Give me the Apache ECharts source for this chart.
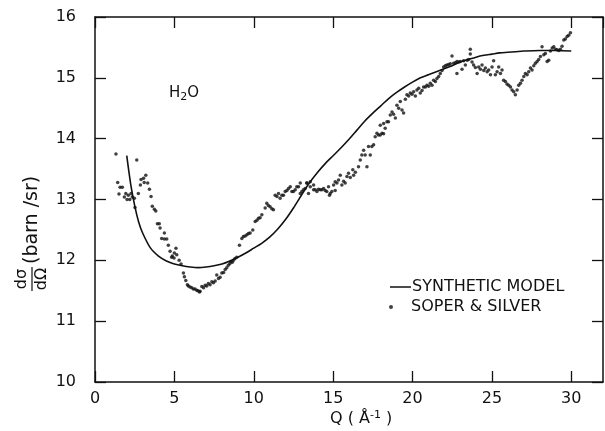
<!DOCTYPE html>
<html>
<head>
<meta charset="utf-8">
<script src="https://cdn.jsdelivr.net/npm/echarts@6/dist/echarts.min.js"></script>
<style>html,body{margin:0;padding:0;background:#fff}#c{width:605px;height:431px}</style>
</head>
<body>
<div id="c"></div>
<script>
const xTicks = [0, 5, 10, 15, 20, 25, 30];
const yTicks = [10, 11, 12, 13, 14, 15, 16];

const modelQ = [2.0, 2.25, 2.5, 2.75, 3.0, 3.5, 4.0, 4.5, 5.0, 5.5, 6.0, 6.5, 7.0, 7.5, 8.0, 8.5, 9.0, 9.5, 10, 10.5, 11, 11.5, 12, 12.5, 13, 13.5, 14, 14.5, 15, 15.5, 16, 16.5, 17, 17.5, 18, 18.5, 19, 19.5, 20, 20.5, 21, 21.5, 22, 22.5, 23, 23.5, 24, 24.5, 25, 25.5, 26, 26.5, 27, 28, 29, 30];
const modelS = [13.72, 13.25, 12.9, 12.63, 12.45, 12.2, 12.07, 11.99, 11.94, 11.91, 11.89, 11.88, 11.89, 11.91, 11.94, 11.99, 12.05, 12.12, 12.2, 12.28, 12.38, 12.51, 12.67, 12.86, 13.07, 13.27, 13.44, 13.59, 13.72, 13.85, 13.99, 14.14, 14.29, 14.42, 14.54, 14.66, 14.76, 14.85, 14.93, 15.0, 15.05, 15.1, 15.15, 15.2, 15.26, 15.3, 15.34, 15.37, 15.39, 15.41, 15.42, 15.43, 15.44, 15.45, 15.45, 15.44];

const dataQ = [1.32, 1.43, 1.51, 1.58, 1.72, 1.85, 1.94, 2.02, 2.1, 2.19, 2.27, 2.35, 2.48, 2.52, 2.63, 2.73, 2.86, 2.9, 3.06, 3.1, 3.2, 3.32, 3.43, 3.53, 3.61, 3.74, 3.83, 3.93, 4.05, 4.1, 4.2, 4.37, 4.37, 4.52, 4.62, 4.73, 4.83, 4.87, 4.98, 5.0, 5.1, 5.15, 5.3, 5.42, 5.57, 5.63, 5.72, 5.82, 5.88, 5.99, 6.09, 6.2, 6.3, 6.41, 6.48, 6.58, 6.62, 6.73, 6.84, 6.94, 7.04, 7.14, 7.25, 7.36, 7.46, 7.57, 7.67, 7.78, 7.88, 7.99, 8.1, 8.2, 8.3, 8.4, 8.5, 8.56, 8.65, 8.72, 8.82, 8.93, 9.1, 9.25, 9.35, 9.46, 9.57, 9.67, 9.77, 9.94, 10.09, 10.2, 10.3, 10.4, 10.51, 10.72, 10.82, 10.92, 11.03, 11.14, 11.24, 11.35, 11.46, 11.56, 11.66, 11.77, 11.87, 11.98, 12.09, 12.19, 12.3, 12.4, 12.5, 12.61, 12.71, 12.82, 12.93, 12.93, 13.03, 13.13, 13.24, 13.34, 13.35, 13.45, 13.56, 13.56, 13.77, 13.77, 13.87, 13.98, 14.08, 14.19, 14.29, 14.4, 14.5, 14.6, 14.71, 14.77, 14.82, 14.92, 15.03, 15.13, 15.13, 15.24, 15.34, 15.45, 15.55, 15.66, 15.76, 15.87, 15.97, 16.08, 16.24, 16.29, 16.4, 16.6, 16.71, 16.81, 16.92, 17.02, 17.13, 17.23, 17.34, 17.44, 17.55, 17.65, 17.76, 17.86, 17.97, 17.97, 18.08, 18.18, 18.18, 18.28, 18.39, 18.49, 18.6, 18.71, 18.81, 18.92, 19.02, 19.13, 19.23, 19.34, 19.44, 19.55, 19.65, 19.76, 19.86, 19.97, 20.07, 20.18, 20.28, 20.39, 20.49, 20.6, 20.7, 20.81, 20.91, 21.02, 21.12, 21.23, 21.33, 21.44, 21.54, 21.65, 21.75, 21.86, 21.96, 22.07, 22.17, 22.28, 22.38, 22.49, 22.59, 22.7, 22.8, 22.8, 22.91, 23.01, 23.12, 23.22, 23.33, 23.44, 23.54, 23.64, 23.64, 23.75, 23.85, 23.96, 24.07, 24.17, 24.28, 24.38, 24.49, 24.59, 24.7, 24.8, 24.91, 25.01, 25.11, 25.22, 25.33, 25.43, 25.54, 25.64, 25.74, 25.85, 25.95, 26.06, 26.17, 26.27, 26.38, 26.48, 26.59, 26.69, 26.8, 26.9, 27.01, 27.11, 27.22, 27.32, 27.43, 27.53, 27.64, 27.74, 27.85, 27.95, 28.06, 28.16, 28.27, 28.37, 28.48, 28.58, 28.69, 28.8, 28.9, 29.01, 29.11, 29.22, 29.32, 29.42, 29.53, 29.63, 29.74, 29.84, 29.95];
const dataS = [13.75, 13.28, 13.09, 13.2, 13.2, 13.04, 13.1, 13.0, 13.07, 13.0, 13.1, 13.04, 13.02, 12.87, 13.65, 13.1, 13.24, 13.33, 13.35, 13.28, 13.4, 13.27, 13.17, 13.05, 12.89, 12.84, 12.81, 12.6, 12.6, 12.53, 12.36, 12.45, 12.35, 12.35, 12.25, 12.15, 12.05, 12.07, 12.04, 12.12, 12.2, 12.09, 12.0, 11.94, 11.79, 11.73, 11.67, 11.6, 11.58, 11.56, 11.55, 11.53, 11.53, 11.51, 11.5, 11.48, 11.49, 11.57, 11.55, 11.59, 11.58, 11.62, 11.6, 11.65, 11.63, 11.66, 11.76, 11.7, 11.72, 11.79, 11.8, 11.85, 11.88, 11.92, 11.95, 11.98, 11.97, 12.0, 12.03, 12.05, 12.25, 12.36, 12.39, 12.4, 12.42, 12.44, 12.45, 12.5, 12.64, 12.66, 12.69, 12.7, 12.75, 12.86, 12.94, 12.9, 12.88, 12.85, 12.83, 13.07, 13.05, 13.1, 13.02, 13.07, 13.07, 13.13, 13.15, 13.18, 13.21, 13.13, 13.13, 13.16, 13.21, 13.21, 13.27, 13.1, 13.13, 13.16, 13.18, 13.27, 13.27, 13.1, 13.21, 13.29, 13.24, 13.16, 13.16, 13.13, 13.17, 13.16, 13.16, 13.18, 13.15, 13.13, 13.21, 13.07, 13.1, 13.13, 13.24, 13.15, 13.29, 13.27, 13.32, 13.4, 13.24, 13.3, 13.27, 13.38, 13.43, 13.36, 13.49, 13.4, 13.45, 13.54, 13.65, 13.73, 13.81, 13.73, 13.54, 13.87, 13.73, 13.87, 13.9, 14.03, 14.09, 14.06, 14.06, 14.22, 14.09, 14.08, 14.25, 14.17, 14.28, 14.28, 14.39, 14.44, 14.4, 14.34, 14.55, 14.5, 14.61, 14.47, 14.42, 14.65, 14.72, 14.7, 14.75, 14.73, 14.77, 14.7, 14.8, 14.83, 14.75, 14.79, 14.85, 14.85, 14.88, 14.86, 14.91, 14.88, 14.96, 14.94, 14.99, 15.02, 15.07, 15.12, 15.18, 15.2, 15.21, 15.22, 15.23, 15.36, 15.24, 15.25, 15.27, 15.07, 15.26, 15.27, 15.14, 15.28, 15.21, 15.29, 15.3, 15.47, 15.39, 15.26, 15.21, 15.17, 15.07, 15.18, 15.14, 15.21, 15.12, 15.16, 15.1, 15.13, 15.05, 15.18, 15.28, 15.05, 15.1, 15.18, 15.07, 15.13, 14.96, 14.94, 14.9, 14.88, 14.85, 14.8, 14.77, 14.72, 14.8, 14.88, 14.91, 14.96, 15.02, 15.07, 15.05, 15.1, 15.16, 15.13, 15.2, 15.24, 15.27, 15.3, 15.35, 15.51, 15.38, 15.4, 15.27, 15.29, 15.44, 15.49, 15.51, 15.47, 15.46, 15.45, 15.47, 15.52, 15.62, 15.64, 15.68, 15.7, 15.74];

const FONT = "'DejaVu Sans', 'Liberation Sans', sans-serif";
const INK = '#111';

const chart = echarts.init(document.getElementById('c'), null, {renderer: 'canvas'});

const axisCommon = {
  type: 'value',
  axisLine: {show: true, onZero: false, lineStyle: {color: INK, width: 1.5}},
  axisTick: {show: true, inside: true, length: 11, lineStyle: {color: INK, width: 1.3}},
  splitLine: {show: false}
};

chart.setOption({
  animation: false,
  backgroundColor: '#fff',
  grid: {left: 95, right: 2, top: 17, bottom: 49, containLabel: false},
  xAxis: [
    Object.assign({}, axisCommon, {
      position: 'bottom', min: 0, max: 32, interval: 5,
      axisLabel: {show: true, showMaxLabel: false, margin: 9, color: INK, fontFamily: FONT, fontSize: 16,
        formatter: v => xTicks.includes(v) ? String(v) : ''}
    }),
    Object.assign({}, axisCommon, {
      position: 'top', min: 0, max: 32, interval: 5,
      axisLabel: {show: false}
    })
  ],
  yAxis: [
    Object.assign({}, axisCommon, {
      position: 'left', min: 10, max: 16, interval: 1,
      axisLabel: {show: true, margin: 19, color: INK, fontFamily: FONT, fontSize: 16,
        formatter: v => yTicks.includes(v) ? String(v) : ''}
    }),
    Object.assign({}, axisCommon, {
      position: 'right', min: 10, max: 16, interval: 1,
      axisLabel: {show: false}
    })
  ],
  legend: [
    {
      data: [{name: 'SYNTHETIC MODEL', icon: 'rect'}],
      left: 385, top: 274, orient: 'vertical',
      itemWidth: 21, itemHeight: 1.5, itemGap: 0,
      textStyle: {color: INK, fontFamily: FONT, fontSize: 16, padding: [0, 0, 0, -4]},
      selectedMode: false
    },
    {
      data: [{name: 'SOPER & SILVER', icon: 'circle'}],
      left: 384, top: 294, orient: 'vertical',
      itemWidth: 4, itemHeight: 4, itemGap: 0,
      textStyle: {color: INK, fontFamily: FONT, fontSize: 16, padding: [0, 0, 0, 13]},
      selectedMode: false
    }
  ],
  graphic: [
    {
      type: 'text', left: 169, top: 86,
      style: {
        text: 'H{s|2}O', fill: INK, font: '15px ' + FONT,
        rich: {s: {fontSize: 11, fontFamily: FONT, fill: INK, padding: [7, 0, 0, 0]}}
      }
    },
    {
      type: 'text', left: 330, top: 410,
      style: {
        text: 'Q ( Å{p|-1} )', fill: INK, font: '16px ' + FONT,
        rich: {p: {fontSize: 11, fontFamily: FONT, fill: INK, padding: [0, 0, 7, 0]}}
      }
    },
    {
      type: 'group', x: 32, y: 291, rotation: Math.PI / 2,
      children: [
        {type: 'text', x: 12, y: -10, style: {text: 'dσ', fill: INK, font: '16px ' + FONT, align: 'center', verticalAlign: 'middle'}},
        {type: 'line', shape: {x1: 0, y1: 0, x2: 24, y2: 0}, style: {stroke: INK, lineWidth: 1.2}},
        {type: 'text', x: 12, y: 10, style: {text: 'dΩ', fill: INK, font: '16px ' + FONT, align: 'center', verticalAlign: 'middle'}},
        {type: 'text', x: 27, y: 0, style: {text: '(barn /sr)', fill: INK, font: '19px ' + FONT, align: 'left', verticalAlign: 'middle'}}
      ]
    }
  ],
  series: [
    {
      name: 'SYNTHETIC MODEL', type: 'line', xAxisIndex: 0, yAxisIndex: 0,
      data: modelQ.map((q, i) => [q, modelS[i]]),
      smooth: 0.3, showSymbol: false, symbol: 'none',
      lineStyle: {color: INK, width: 1.6}, itemStyle: {color: INK}
    },
    {
      name: 'SOPER & SILVER', type: 'scatter', xAxisIndex: 0, yAxisIndex: 0,
      data: dataQ.map((q, i) => [q, dataS[i]]),
      symbol: 'circle', symbolSize: 3.5,
      itemStyle: {color: INK}
    }
  ]
});
</script>
</body>
</html>
